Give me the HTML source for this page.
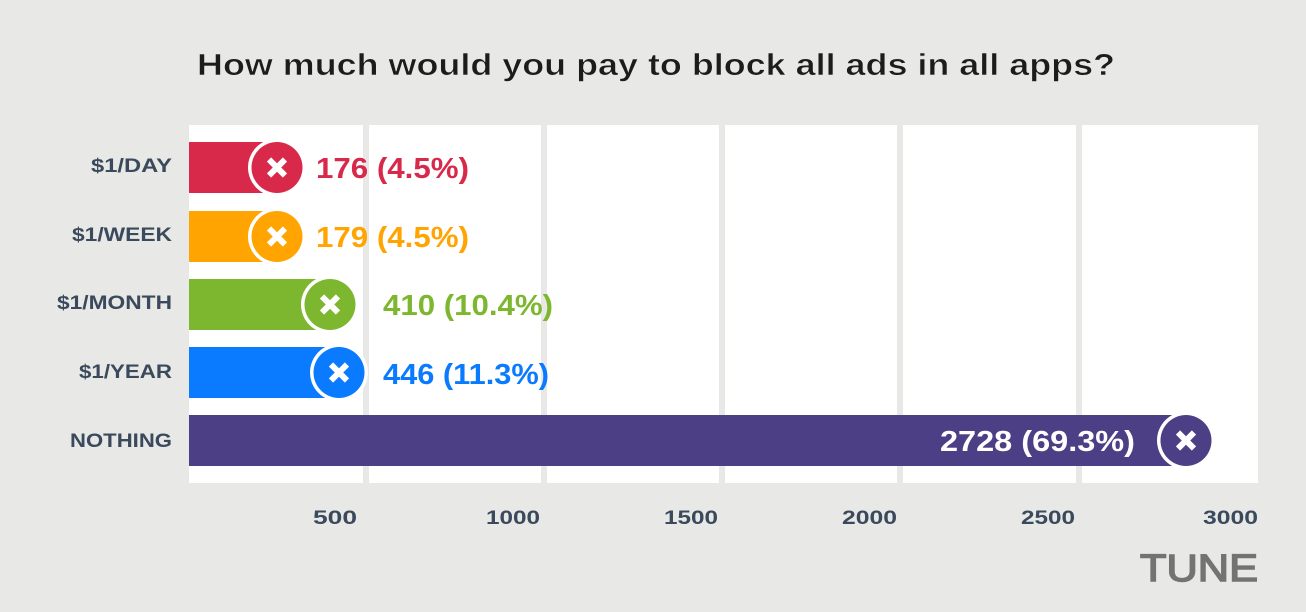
<!DOCTYPE html>
<html><head><meta charset="utf-8"><style>
html,body{margin:0;padding:0;background:#e8e8e6;}
svg{display:block;font-family:"Liberation Sans",sans-serif;}
</style></head><body>
<svg width="1306" height="612" viewBox="0 0 1306 612">
<rect width="1306" height="612" fill="#e8e8e6"/>
<text x="197" y="75" font-size="31" font-weight="bold" fill="#1c1c1c" stroke="#e8e8e6" stroke-width="0.6" textLength="918" lengthAdjust="spacingAndGlyphs">How much would you pay to block all ads in all apps?</text>
<rect x="189" y="125" width="1069" height="358" fill="#fff"/>
<g fill="#e8e8e6">
<rect x="363" y="125" width="6" height="358"/>
<rect x="541" y="125" width="6" height="358"/>
<rect x="719" y="125" width="6" height="358"/>
<rect x="897" y="125" width="6" height="358"/>
<rect x="1076" y="125" width="6" height="358"/>
</g>
<g font-weight="bold" font-size="19" fill="#3a4a5c">
<text x="91" y="172" textLength="81" lengthAdjust="spacingAndGlyphs">$1/DAY</text>
<text x="72" y="241" textLength="100" lengthAdjust="spacingAndGlyphs">$1/WEEK</text>
<text x="57" y="309" textLength="115" lengthAdjust="spacingAndGlyphs">$1/MONTH</text>
<text x="79" y="378" textLength="93" lengthAdjust="spacingAndGlyphs">$1/YEAR</text>
<text x="70" y="447" textLength="102" lengthAdjust="spacingAndGlyphs">NOTHING</text>
<text x="313" y="524" textLength="44" lengthAdjust="spacingAndGlyphs">500</text>
<text x="486" y="524" textLength="54" lengthAdjust="spacingAndGlyphs">1000</text>
<text x="664" y="524" textLength="54" lengthAdjust="spacingAndGlyphs">1500</text>
<text x="842" y="524" textLength="55" lengthAdjust="spacingAndGlyphs">2000</text>
<text x="1021" y="524" textLength="54" lengthAdjust="spacingAndGlyphs">2500</text>
<text x="1203" y="524" textLength="55" lengthAdjust="spacingAndGlyphs">3000</text>
</g>
<g>
<rect x="189" y="142" width="88" height="51" fill="#d9294a"/>
<circle cx="277" cy="167.5" r="29" fill="#fff"/><circle cx="277" cy="167.5" r="25.5" fill="#d9294a"/>
<rect x="189" y="211" width="88" height="51" fill="#ffa400"/>
<circle cx="277" cy="236.5" r="29" fill="#fff"/><circle cx="277" cy="236.5" r="25.5" fill="#ffa400"/>
<rect x="189" y="279" width="141" height="51" fill="#7db72f"/>
<circle cx="330" cy="304.5" r="29" fill="#fff"/><circle cx="330" cy="304.5" r="25.5" fill="#7db72f"/>
<rect x="189" y="347" width="150" height="51" fill="#0a7bff"/>
<circle cx="339" cy="372.5" r="29" fill="#fff"/><circle cx="339" cy="372.5" r="25.5" fill="#0a7bff"/>
<rect x="189" y="415" width="997" height="51" fill="#4c3f86"/>
<circle cx="1186" cy="440.5" r="29" fill="#fff"/><circle cx="1186" cy="440.5" r="25.5" fill="#4c3f86"/>
</g>
<g stroke="#fff" stroke-width="6" stroke-linecap="butt">
<path d="M269 159.5l16 16M285 159.5l-16 16"/>
<path d="M269 228.5l16 16M285 228.5l-16 16"/>
<path d="M322 296.5l16 16M338 296.5l-16 16"/>
<path d="M331 364.5l16 16M347 364.5l-16 16"/>
<path d="M1178 432.5l16 16M1194 432.5l-16 16"/>
</g>
<g font-size="29" font-weight="bold">
<text x="316" y="178" fill="#d9294a" textLength="153" lengthAdjust="spacingAndGlyphs">176 (4.5%)</text>
<text x="316" y="247" fill="#ffa400" textLength="153" lengthAdjust="spacingAndGlyphs">179 (4.5%)</text>
<text x="383" y="315" fill="#7db72f" textLength="170" lengthAdjust="spacingAndGlyphs">410 (10.4%)</text>
<text x="383" y="384" fill="#0a7bff" textLength="166" lengthAdjust="spacingAndGlyphs">446 (11.3%)</text>
<text x="940" y="451" fill="#fff" textLength="195" lengthAdjust="spacingAndGlyphs">2728 (69.3%)</text>
</g>
<text x="1140" y="581" font-size="38" fill="#737373" stroke="#737373" stroke-width="1.5" textLength="118" lengthAdjust="spacingAndGlyphs">TUNE</text>
</svg>
</body></html>
